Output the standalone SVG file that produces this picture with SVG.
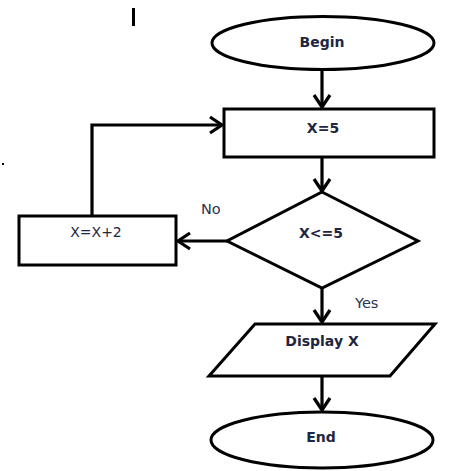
<svg xmlns="http://www.w3.org/2000/svg" width="455" height="471" viewBox="0 0 455 471">
<style>
.shape{fill:#fff;stroke:#000;stroke-width:3}
.conn{fill:none;stroke:#000;stroke-width:3.2}
.t{font-family:"DejaVu Sans","Liberation Sans",sans-serif;font-size:14px;fill:#1f2640;text-anchor:middle}
.b{font-weight:bold}
.lbl{font-family:"DejaVu Sans","Liberation Sans",sans-serif;font-size:14.5px;fill:#2a3550}
</style>
<defs>
<marker id="arr" markerUnits="userSpaceOnUse" markerWidth="24" markerHeight="24" viewBox="-14 -12 24 24" refX="0" refY="0" orient="auto">
<path d="M -12 -8 L 0 0 L -12 8" fill="none" stroke="#000" stroke-width="3.2"/>
</marker>
</defs>
<rect x="132" y="8" width="3" height="18" fill="#000"/>
<rect x="2" y="163" width="2" height="2" fill="#000"/>
<g id="begin">
<ellipse class="shape" cx="323" cy="43" rx="111" ry="26.5"/>
<text class="t b" x="322" y="47">Begin</text>
</g>
<g id="assign">
<rect class="shape" x="224" y="109" width="210" height="48"/>
<text class="t b" x="323" y="133">X=5</text>
</g>
<g id="decision">
<polygon class="shape" points="322,192 418,241 322,288 227,241"/>
<text class="t b" x="321" y="238">X&lt;=5</text>
</g>
<g id="increment">
<rect class="shape" x="19" y="216" width="157" height="49"/>
<text class="t" x="96" y="237">X=X+2</text>
</g>
<g id="display">
<polygon class="shape" points="255,324 435,324 390,376 209,376"/>
<text class="t b" x="322" y="346">Display X</text>
</g>
<g id="end">
<ellipse class="shape" cx="322" cy="440" rx="111" ry="28"/>
<text class="t b" x="321" y="442">End</text>
</g>
<g id="connectors">
<line class="conn" x1="322" y1="70" x2="322" y2="107" marker-end="url(#arr)"/>
<line class="conn" x1="322" y1="157" x2="322" y2="191" marker-end="url(#arr)"/>
<line class="conn" x1="227" y1="241" x2="178" y2="241" marker-end="url(#arr)"/>
<polyline class="conn" points="92,216 92,125 222,125" marker-end="url(#arr)"/>
<line class="conn" x1="322" y1="288" x2="322" y2="322" marker-end="url(#arr)"/>
<line class="conn" x1="322" y1="376" x2="322" y2="410" marker-end="url(#arr)"/>
<text class="lbl" x="201" y="214">No</text>
<text class="lbl" x="355" y="308">Yes</text>
</g>
</svg>
